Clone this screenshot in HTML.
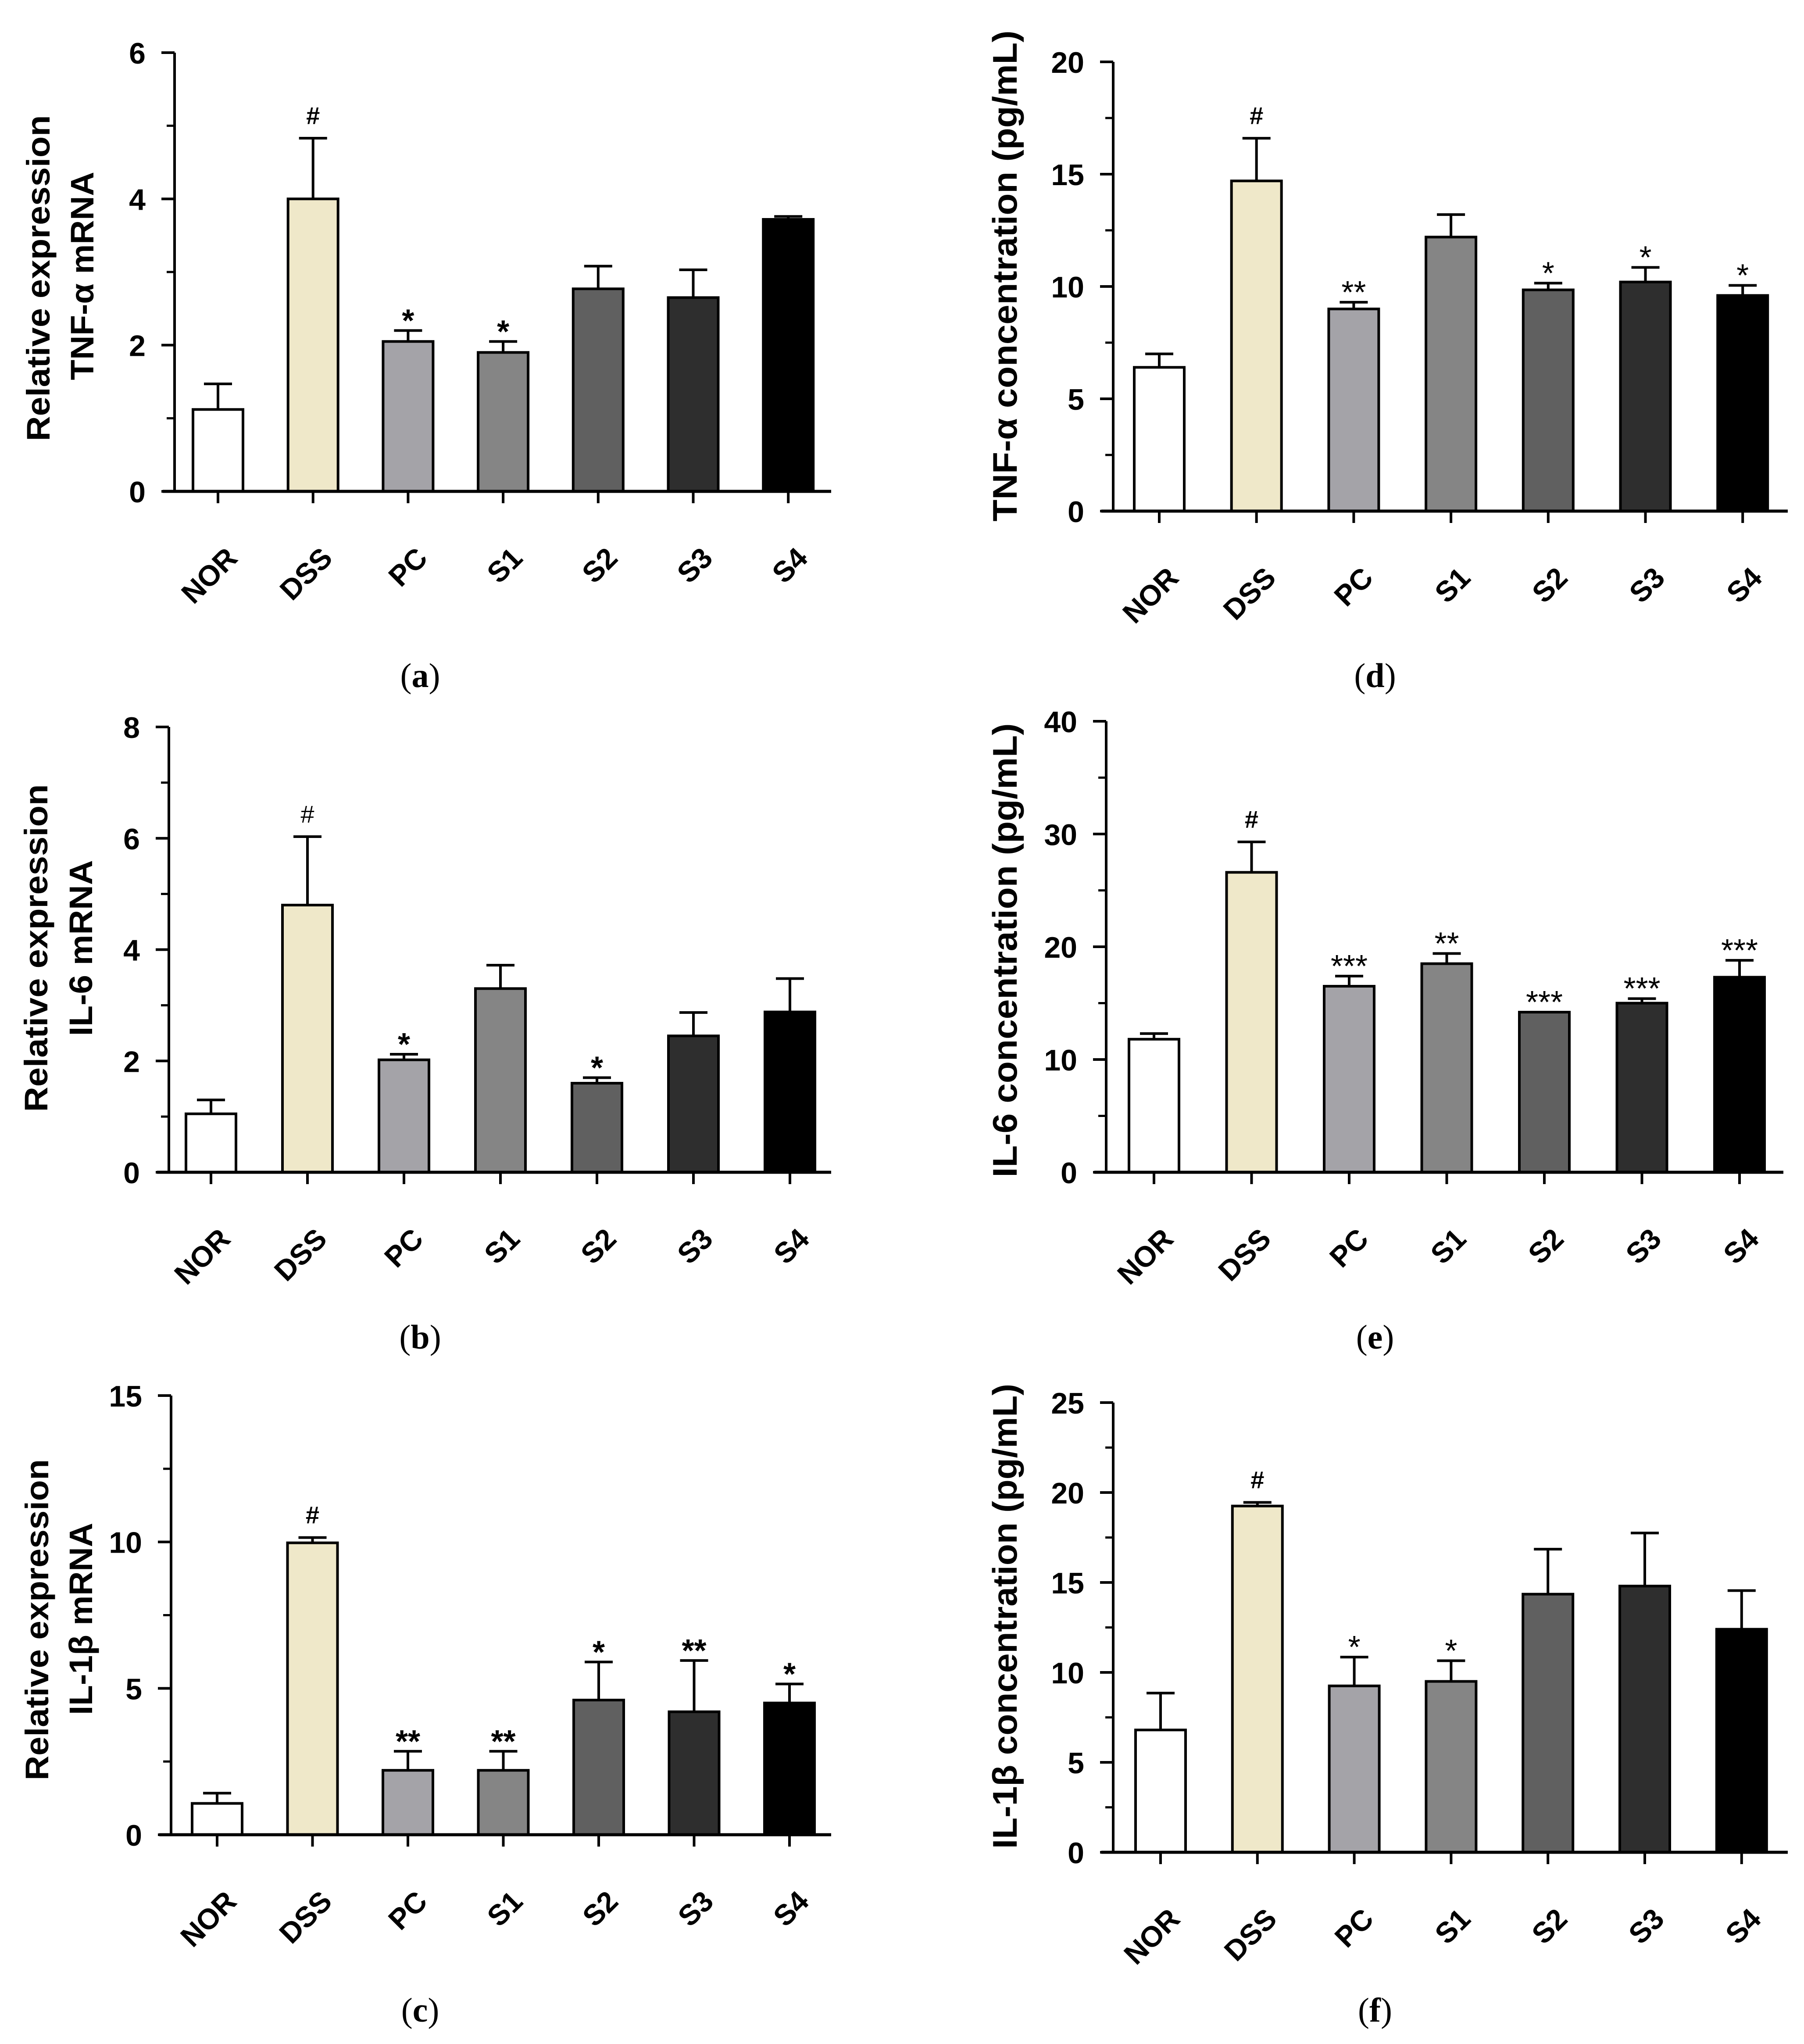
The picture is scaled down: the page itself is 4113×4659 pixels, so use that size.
<!DOCTYPE html>
<html>
<head>
<meta charset="utf-8">
<style>
  html, body { margin: 0; padding: 0; background: #ffffff; }
  #fig { display: block; }
</style>
</head>
<body>
<svg id="fig" xmlns="http://www.w3.org/2000/svg" width="4113" height="4659" viewBox="0 0 4113 4659">
  <rect x="0" y="0" width="4113" height="4659" fill="#ffffff"/>
</svg>
<script>
// ---- data ----
const categories = ["NOR", "DSS", "PC", "S1", "S2", "S3", "S4"];
const barColors = ["#ffffff", "#efe8c9", "#a4a3a8", "#858585", "#606060", "#2e2e2e", "#000000"];

const valuesA = [1.12, 4.0, 2.05, 1.9, 2.77, 2.65, 3.72];
const errTopA = [1.47, 4.83, 2.2, 2.05, 3.08, 3.03, 3.76];
const marksA = ["", "#", "*", "*", "", "", ""];
const ticksA = [0, 2, 4, 6];

const valuesB = [1.05, 4.8, 2.02, 3.3, 1.6, 2.45, 2.88];
const errTopB = [1.3, 6.03, 2.12, 3.72, 1.7, 2.87, 3.48];
const marksB = ["", "#", "*", "", "*", "", ""];
const ticksB = [0, 2, 4, 6, 8];

const valuesC = [1.07, 9.97, 2.2, 2.2, 4.6, 4.2, 4.5];
const errTopC = [1.42, 10.15, 2.85, 2.85, 5.9, 5.95, 5.15];
const marksC = ["", "#", "**", "**", "*", "**", "*"];
const ticksC = [0, 5, 10, 15];

const valuesD = [6.4, 14.7, 9.0, 12.2, 9.85, 10.2, 9.6];
const errTopD = [7.0, 16.6, 9.3, 13.2, 10.15, 10.85, 10.05];
const marksD = ["", "#", "**", "", "*", "*", "*"];
const ticksD = [0, 5, 10, 15, 20];

const valuesE = [11.8, 26.6, 16.5, 18.5, 14.2, 15.0, 17.3];
const errTopE = [12.3, 29.3, 17.4, 19.4, 14.2, 15.4, 18.8];
const marksE = ["", "#", "***", "**", "***", "***", "***"];
const ticksE = [0, 10, 20, 30, 40];

const valuesF = [6.8, 19.25, 9.25, 9.5, 14.35, 14.8, 12.4];
const errTopF = [8.85, 19.45, 10.85, 10.65, 16.85, 17.75, 14.55];
const marksF = ["", "#", "*", "*", "", "", ""];
const ticksF = [0, 5, 10, 15, 20, 25];

// ---- layout (pixels) ----
const NS = "http://www.w3.org/2000/svg";
const svg = document.getElementById("fig");
const FONT = "'Liberation Sans', Arial, sans-serif";

function mk(tag, attrs, parent) {
  const e = document.createElementNS(NS, tag);
  for (const k in attrs) e.setAttribute(k, attrs[k]);
  (parent || svg).appendChild(e);
  return e;
}

function drawPanel(p) {
  const g = mk("g", {});
  
  
  const ymax = p.ticks[p.ticks.length - 1];
  const yScale = v => p.zeroY - (v / ymax) * (p.zeroY - p.topY);
  const xScale = i => p.firstX + i * p.step;

  for (let i = 0; i < categories.length; i++) {
    const cx = xScale(i);
    const yv = yScale(p.values[i]);
    const ye = yScale(p.errTop[i]);
    const eb = mk("line", { x1: cx, x2: cx, y1: yv, y2: ye, stroke: "#000", "stroke-width": 6 }, g);
    
    
    const cap = mk("line", { x1: cx - 32, x2: cx + 32, y1: ye, y2: ye, stroke: "#000", "stroke-width": 6 }, g);
    
    
    const bar = mk("rect", { x: cx - 57, y: yv, width: 114, height: p.zeroY - yv, fill: barColors[i], stroke: "#000", "stroke-width": 6 }, g);
    
    

    const m = p.marks[i];
    if (m) {
      const isHash = m === "#";
      const bold = isHash ? p.hashBold : p.starBold;
      const t = mk("text", {
        x: cx, y: isHash ? ye - 32 : ye + 2, "text-anchor": "middle",
        "font-family": FONT, "font-size": isHash ? 56 : 72,
        "font-weight": bold ? "bold" : "normal", fill: "#000"
      }, g);
      t.textContent = m;
      
      
    }

    const lx = cx + 48, ly = p.zeroY + 156;
    const lbl = mk("text", {
      x: lx, y: ly, "text-anchor": "end",
      transform: "rotate(-45 " + lx + " " + ly + ")",
      "font-family": FONT, "font-size": 66, "font-weight": "bold", fill: "#000"
    }, g);
    lbl.textContent = categories[i];
    
    
    const xt = mk("line", { x1: cx, x2: cx, y1: p.zeroY, y2: p.zeroY + 27, stroke: "#000", "stroke-width": 6 }, g);
    
    
  }

  const yAxis = mk("line", { x1: p.axisX, x2: p.axisX, y1: p.topY, y2: p.zeroY + 3, stroke: "#000", "stroke-width": 6 }, g);
  
  
  const xAxis = mk("line", { x1: p.axisX - 27, x2: p.xEnd, y1: p.zeroY, y2: p.zeroY, stroke: "#000", "stroke-width": 7 }, g);
  
  

  const tstep = p.ticks[1] - p.ticks[0];
  for (let k = 0; k < p.ticks.length; k++) {
    const v = p.ticks[k];
    const y = yScale(v);
    const tk = mk("line", { x1: p.axisX - 30, x2: p.axisX, y1: y, y2: y, stroke: "#000", "stroke-width": 6 }, g);
    
    
    const tl = mk("text", {
      x: p.axisX - 66, y: y + 25, "text-anchor": "end",
      "font-family": FONT, "font-size": 68, "font-weight": "bold", fill: "#000"
    }, g);
    tl.textContent = String(v);
    
    
    if (k < p.ticks.length - 1) {
      const ym = yScale(v + tstep / 2);
      const mt = mk("line", { x1: p.axisX - 18, x2: p.axisX, y1: ym, y2: ym, stroke: "#000", "stroke-width": 5 }, g);
      
      
    }
  }

  for (const L of p.titles) {
    const t = mk("text", {
      x: L.x, y: L.cy, "text-anchor": "middle",
      transform: "rotate(-90 " + L.x + " " + L.cy + ")",
      "font-family": FONT, "font-size": L.fs, "font-weight": "bold", fill: "#000",
      textLength: L.len, lengthAdjust: "spacingAndGlyphs"
    }, g);
    t.textContent = L.text;
    
    
  }

  const cap = mk("text", {
    x: p.capX, y: p.capY, "text-anchor": "middle",
    "font-family": "'Liberation Serif', 'Times New Roman', serif", "font-size": 78, fill: "#000"
  }, g);
  cap.innerHTML = '(<tspan font-weight="bold">' + p.letter + '</tspan>)';
  
  
}

drawPanel({ name: "panel-a", letter: "a", values: valuesA, errTop: errTopA, marks: marksA, ticks: ticksA,
  axisX: 398, topY: 120, zeroY: 1120, xEnd: 1895, firstX: 497, step: 216.7, hashBold: true, starBold: true,
  capX: 958, capY: 1566,
  titles: [{ text: "Relative expression", x: 113, cy: 634, fs: 74, len: 743 },
           { text: "TNF-α mRNA", x: 213, cy: 629, fs: 74, len: 475 }] });

drawPanel({ name: "panel-b", letter: "b", values: valuesB, errTop: errTopB, marks: marksB, ticks: ticksB,
  axisX: 385, topY: 1657, zeroY: 2672, xEnd: 1895, firstX: 481, step: 220, hashBold: false, starBold: true,
  capX: 958, capY: 3074,
  titles: [{ text: "Relative expression", x: 108, cy: 2161, fs: 74, len: 747 },
           { text: "IL-6 mRNA", x: 210, cy: 2161, fs: 74, len: 401 }] });

drawPanel({ name: "panel-c", letter: "c", values: valuesC, errTop: errTopC, marks: marksC, ticks: ticksC,
  axisX: 390, topY: 3181, zeroY: 4182, xEnd: 1895, firstX: 495, step: 217.5, hashBold: true, starBold: true,
  capX: 958, capY: 4608,
  titles: [{ text: "Relative expression", x: 110, cy: 3692, fs: 74, len: 732 },
           { text: "IL-1β mRNA", x: 210, cy: 3690, fs: 74, len: 438 }] });

drawPanel({ name: "panel-d", letter: "d", values: valuesD, errTop: errTopD, marks: marksD, ticks: ticksD,
  axisX: 2538, topY: 141, zeroY: 1165, xEnd: 4076, firstX: 2643, step: 221.7, hashBold: true, starBold: false,
  capX: 3135, capY: 1566,
  titles: [{ text: "TNF-α concentration (pg/mL)", x: 2318, cy: 629, fs: 78, len: 1119 }] });

drawPanel({ name: "panel-e", letter: "e", values: valuesE, errTop: errTopE, marks: marksE, ticks: ticksE,
  axisX: 2522, topY: 1644, zeroY: 2672, xEnd: 4066, firstX: 2631, step: 222.5, hashBold: true, starBold: false,
  capX: 3135, capY: 3074,
  titles: [{ text: "IL-6 concentration (pg/mL)", x: 2318, cy: 2166, fs: 78, len: 1035 }] });

drawPanel({ name: "panel-f", letter: "f", values: valuesF, errTop: errTopF, marks: marksF, ticks: ticksF,
  axisX: 2538, topY: 3197, zeroY: 4222, xEnd: 4076, firstX: 2646, step: 220.8, hashBold: true, starBold: false,
  capX: 3135, capY: 4608,
  titles: [{ text: "IL-1β concentration (pg/mL)", x: 2318, cy: 3684, fs: 78, len: 1060 }] });
</script>
</body>
</html>
